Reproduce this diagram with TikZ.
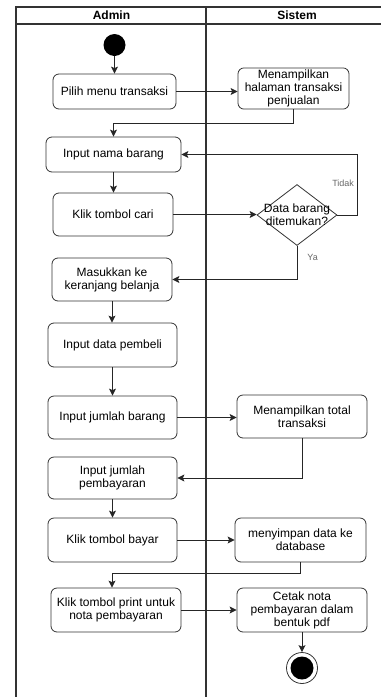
\documentclass[tikz,border=0pt]{standalone}
\usepackage{fontspec}
\setmainfont{Liberation Sans}
\usetikzlibrary{positioning,shapes.geometric,arrows.meta}

\begin{document}
\begin{tikzpicture}[x=1pt,y=-1pt,
			font=\fontsize{12}{13}\selectfont,
			act/.style={draw=black!80, line width=0.8pt, rounded corners=6pt, align=center, inner sep=2pt},
			flow/.style={draw=black!85, line width=0.9pt, -{Stealth[length=7pt,width=7pt,inset=1.5pt]}},
			lane/.style={draw=black!80, line width=1.2pt},
			head/.style={font=\fontsize{12}{13}\selectfont\bfseries},
			lbl/.style={font=\fontsize{9}{10}\selectfont, text=black!60, inner sep=1pt}]
			\useasboundingbox (0,0) rectangle (381,697);
			% swimlanes
			\draw[lane] (16,697) -- (16,7) -- (381,7);
			\draw[lane] (16,24) -- (381,24);
			\draw[lane] (206,7) -- (206,697);
			\node[head] (admin) at (111.5,15.5) {Admin};
			\node[head] (sistem) at (297,15.5) {Sistem};
			%
			\node[circle, fill, minimum size=22, inner sep=0] (s) at (114.5,45) {};
			\node[act, minimum width=123, minimum height=35] (a1) at (114.5,91.5) {Pilih menu transaksi};
			\node[act, minimum width=111, minimum height=41] (s1) at (293.5,88.5) {Menampilkan\\halaman transaksi\\penjualan};
			\node[act, minimum width=135, minimum height=35] (a2) at (113.5,154.5) {Input nama barang};
			\node[act, minimum width=120, minimum height=43] (a3) at (113,214.5) {Klik tombol cari};
			\node[diamond, draw=black!80, line width=0.8pt, minimum width=80, minimum height=61, inner sep=0] (d) at (297,215) {};
			\node[align=center, inner sep=0] (dt) at (d) {Data barang\\ditemukan?};
			\node[act, minimum width=120, minimum height=43] (a4) at (112,279.5) {Masukkan ke\\keranjang belanja};
			\node[act, minimum width=129, minimum height=44] (a5) at (112.5,345) {Input data pembeli};
			\node[act, minimum width=129, minimum height=43] (a6) at (112.5,417.5) {Input jumlah barang};
			\node[act, minimum width=130, minimum height=43] (s2) at (302,416.5) {Menampilkan total\\transaksi};
			\node[act, minimum width=129, minimum height=42] (a7) at (112.5,478) {Input jumlah\\pembayaran};
			\node[act, minimum width=129, minimum height=44] (a8) at (112.5,540) {Klik tombol bayar};
			\node[act, minimum width=131, minimum height=44] (s3) at (300.5,540) {menyimpan data ke\\database};
			\node[act, minimum width=130, minimum height=44] (a9) at (116,610) {Klik tombol print untuk\\nota pembayaran};
			\node[act, minimum width=130, minimum height=44] (s4) at (302,610) {Cetak nota\\pembayaran dalam\\bentuk pdf};
			\node[circle, draw=black!80, line width=0.8pt, minimum size=31, inner sep=0,
				path picture={\fill (path picture bounding box.center) circle (11.5pt);}] (e) at (302,668) {};
			%
			\draw[flow] (s) -- (a1);
			\draw[flow] (a1) -- (a1 -| s1.west);
			\draw[flow] (s1.south) -- ++(0,14) -| (a2.north);
			\draw[flow] (a2) -- (a2 |- a3.north);
			\draw[flow] (a3) -- (a3 -| d.west);
			\draw[flow] (d.east) -- ++(20,0) |- node[pos=0.26, left=2pt, lbl] (no) {Tidak} (a2.east);
			\draw[flow] (d.south) |- node[pos=0.17, right=9pt, lbl] (yes) {Ya} (a4.east);
			\draw[flow] (a4) -- (a4 |- a5.north);
			\draw[flow] (a5) -- (a5 |- a6.north);
			\draw[flow] (a6) -- (a6 -| s2.west);
			\draw[flow] (s2.south) |- (a7.east);
			\draw[flow] (a7) -- (a7 |- a8.north);
			\draw[flow] (a8) -- (a8 -| s3.west);
			\draw[flow] (s3.south) -- ++(0,11) -| ([xshift=-4]a9.north);
			\draw[flow] (a9) -- (a9 -| s4.west);
			\draw[flow] (s4) -- (e);
		\end{tikzpicture}
\end{document}
